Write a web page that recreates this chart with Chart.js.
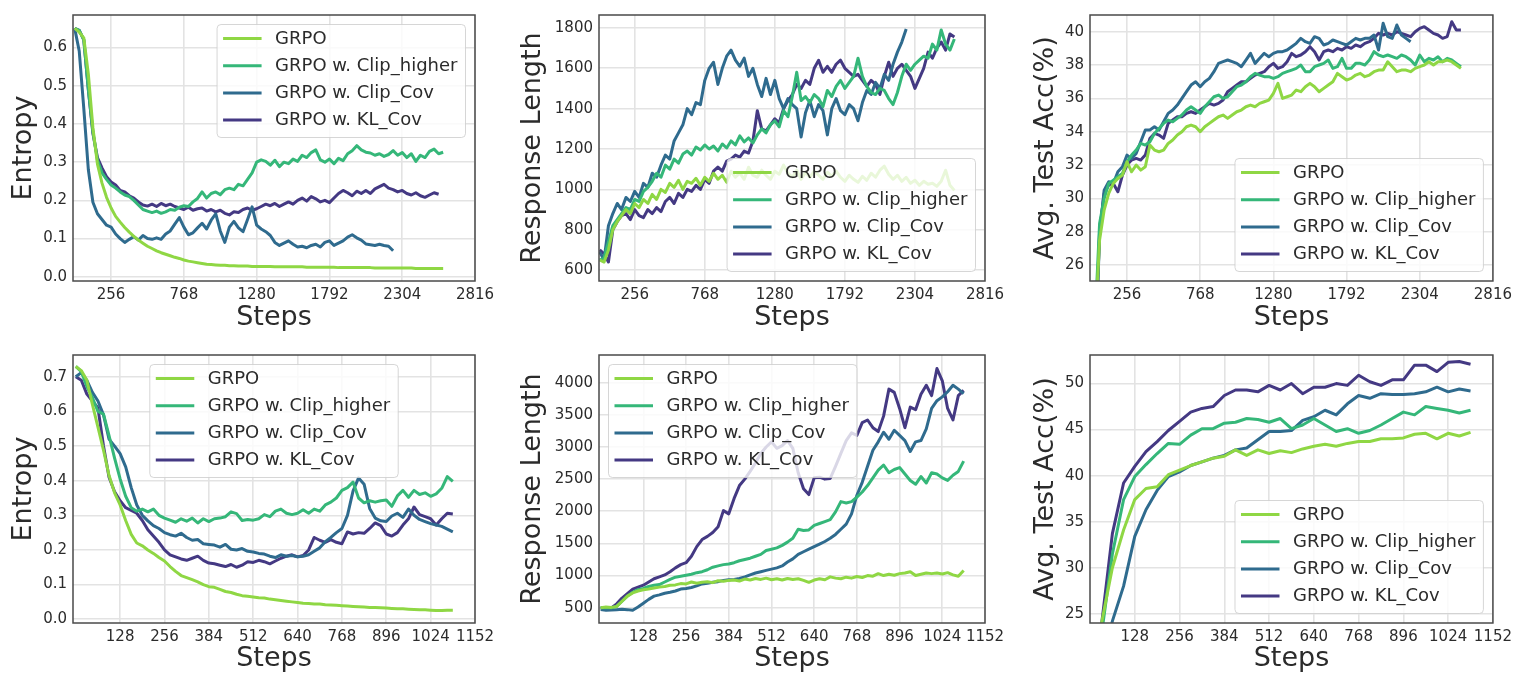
<!DOCTYPE html>
<html>
<head>
<meta charset="utf-8">
<title>Entropy, response length and test accuracy over training steps</title>
<script src="https://cdn.jsdelivr.net/npm/chart.js@4.4.1/dist/chart.umd.min.js"></script>
<style>
  html, body { margin: 0; padding: 0; background: #fff; }
  body { position: relative; width: 1517px; height: 673px; overflow: hidden; }
  canvas { position: absolute; }
</style>
</head>
<body>
<canvas id="entropyTop" width="500" height="340" style="left:0;top:0"></canvas>
<canvas id="lengthTop" width="510" height="340" style="left:500px;top:0"></canvas>
<canvas id="accTop" width="507" height="340" style="left:1010px;top:0"></canvas>
<canvas id="entropyBottom" width="500" height="345" style="left:0;top:340px"></canvas>
<canvas id="lengthBottom" width="510" height="345" style="left:500px;top:340px"></canvas>
<canvas id="accBottom" width="507" height="345" style="left:1010px;top:340px"></canvas>
<script>
// ---- steps ----
const stepsLong = [0,32,64,96,128,160,192,224,256,288,320,352,384,416,448,480,
  512,544,576,608,640,672,704,736,768,800,832,864,896,928,960,992,
  1024,1056,1088,1120,1152,1184,1216,1248,1280,1312,1344,1376,1408,1440,1472,1504,
  1536,1568,1600,1632,1664,1696,1728,1760,1792,1824,1856,1888,1920,1952,1984,2016,
  2048,2080,2112,2144,2176,2208,2240,2272,2304,2336,2368,2400,2432,2464,2496,2528,
  2560,2592];
const stepsShort = [0,16,32,48,64,80,96,112,128,144,160,176,192,208,224,240,
  256,272,288,304,320,336,352,368,384,400,416,432,448,464,480,496,
  512,528,544,560,576,592,608,624,640,656,672,688,704,720,736,752,
  768,784,800,816,832,848,864,880,896,912,928,944,960,976,992,1008,
  1024,1040,1056,1072,1088];
const stepsEvalShort = [32,64,96,128,160,192,224,256,288,320,352,384,416,448,480,512,
  544,576,608,640,672,704,736,768,800,832,864,896,928,960,992,1024,1056,1088];

const seriesNames = ['GRPO', 'GRPO w. Clip_higher', 'GRPO w. Clip_Cov', 'GRPO w. KL_Cov'];
const seriesColors = ['#8fd744', '#35b779', '#2f6b8e', '#443983'];

const xTicksLong = [256, 768, 1280, 1792, 2304, 2816];
const xTicksShort = [128, 256, 384, 512, 640, 768, 896, 1024, 1152];
const entropyTicksTop = [0.0, 0.1, 0.2, 0.3, 0.4, 0.5, 0.6];
const entropyTicksBottom = [0.0, 0.1, 0.2, 0.3, 0.4, 0.5, 0.6, 0.7];
const lengthTicksTop = [600, 800, 1000, 1200, 1400, 1600, 1800];
const lengthTicksBottom = [500, 1000, 1500, 2000, 2500, 3000, 3500, 4000];
const accTicksTop = [26, 28, 30, 32, 34, 36, 38, 40];
const accTicksBottom = [25, 30, 35, 40, 45, 50];

// ---- top row: entropy ----
const grpoEntTop = [0.650,0.640,0.625,0.530,0.390,0.295,0.245,0.208,0.180,0.158,0.143,0.129,0.117,0.106,0.096,0.088,
  0.080,0.074,0.068,0.063,0.059,0.055,0.051,0.048,0.044,0.041,0.039,0.037,0.035,0.033,0.032,0.031,
  0.030,0.030,0.029,0.029,0.028,0.028,0.028,0.027,0.027,0.027,0.027,0.027,0.026,0.026,0.026,0.026,
  0.026,0.026,0.026,0.025,0.025,0.025,0.025,0.025,0.025,0.025,0.024,0.024,0.024,0.024,0.024,0.024,
  0.024,0.024,0.023,0.023,0.023,0.023,0.023,0.023,0.023,0.023,0.023,0.022,0.022,0.022,0.022,0.022,
  0.022,0.022];
const clipHigherEntTop = [0.650,0.645,0.620,0.490,0.380,0.305,0.272,0.255,0.240,0.232,0.222,0.214,0.210,0.200,0.188,0.176,
  0.172,0.168,0.172,0.166,0.170,0.176,0.174,0.182,0.186,0.184,0.196,0.205,0.222,0.206,0.218,0.222,
  0.215,0.228,0.232,0.228,0.242,0.238,0.255,0.272,0.300,0.306,0.302,0.292,0.305,0.288,0.300,0.296,
  0.308,0.302,0.318,0.312,0.325,0.332,0.306,0.300,0.308,0.296,0.310,0.304,0.322,0.330,0.343,0.332,
  0.326,0.324,0.318,0.322,0.315,0.320,0.330,0.318,0.325,0.312,0.322,0.302,0.318,0.312,0.328,0.334,
  0.322,0.326];
const clipCovEntTop = [0.650,0.590,0.440,0.280,0.195,0.165,0.150,0.135,0.130,0.112,0.100,0.090,0.098,0.105,0.096,0.108,
  0.100,0.098,0.102,0.098,0.112,0.120,0.138,0.155,0.130,0.110,0.115,0.128,0.140,0.125,0.148,0.165,
  0.120,0.090,0.130,0.145,0.128,0.118,0.150,0.183,0.135,0.125,0.118,0.108,0.090,0.082,0.088,0.094,
  0.085,0.078,0.080,0.076,0.082,0.085,0.078,0.090,0.094,0.082,0.088,0.094,0.104,0.110,0.102,0.096,
  0.086,0.084,0.082,0.085,0.082,0.080,0.068];
const klCovEntTop = [0.650,0.645,0.620,0.490,0.375,0.312,0.285,0.262,0.248,0.240,0.226,0.222,0.212,0.206,0.196,0.188,
  0.185,0.190,0.184,0.192,0.186,0.190,0.184,0.180,0.176,0.182,0.174,0.178,0.180,0.172,0.176,0.170,
  0.174,0.166,0.162,0.170,0.168,0.176,0.180,0.174,0.178,0.184,0.190,0.186,0.192,0.184,0.190,0.196,
  0.190,0.200,0.206,0.198,0.210,0.204,0.196,0.200,0.194,0.206,0.218,0.226,0.220,0.212,0.224,0.218,
  0.226,0.218,0.230,0.236,0.242,0.232,0.228,0.222,0.226,0.218,0.214,0.220,0.212,0.208,0.214,0.220,
  0.216];

// ---- top row: response length ----
const grpoLenTop = [650,640,700,800,840,870,900,880,930,910,950,930,975,950,1000,985,
  1030,1010,1045,1000,1040,1030,1055,1020,1060,1040,1080,1050,1070,1035,1090,1060,
  1080,1050,1110,1070,1060,1095,1070,1050,1090,1075,1120,1080,1060,1095,1050,1085,
  1060,1090,1070,1050,1085,1065,1090,1060,1040,1070,1050,1035,1065,1045,1080,1060,
  1095,1115,1075,1050,1070,1040,1060,1030,1045,1020,1040,1025,1030,1015,1040,1095,
  1020,995];
const clipHigherLenTop = [650,660,740,820,850,880,910,900,950,940,990,1010,1040,1080,1060,1120,
  1100,1150,1130,1175,1190,1170,1210,1195,1220,1200,1215,1190,1225,1205,1240,1220,
  1265,1235,1255,1230,1270,1300,1280,1320,1340,1310,1390,1360,1460,1580,1440,1460,
  1430,1470,1450,1410,1490,1460,1510,1540,1500,1530,1560,1650,1560,1510,1480,1470,
  1500,1490,1450,1420,1480,1560,1620,1590,1620,1640,1660,1650,1720,1690,1790,1720,
  1690,1745];
const clipCovLenTop = [690,650,820,880,930,900,960,940,990,960,1030,1010,1080,1060,1120,1170,
  1150,1240,1280,1320,1400,1370,1430,1420,1540,1600,1630,1520,1600,1660,1690,1640,
  1610,1650,1560,1600,1520,1460,1550,1470,1540,1450,1400,1450,1420,1400,1260,1380,
  1440,1360,1420,1390,1270,1400,1450,1390,1370,1420,1400,1340,1430,1490,1470,1530,
  1500,1570,1540,1620,1680,1730,1795];
const klCovLenTop = [700,680,640,800,840,870,880,850,900,870,860,900,880,910,890,940,
  960,930,980,960,1000,990,1020,1000,1050,1030,1090,1110,1090,1140,1150,1170,
  1160,1190,1180,1240,1390,1300,1290,1320,1350,1330,1400,1440,1470,1520,1500,1540,
  1520,1600,1640,1580,1610,1580,1620,1640,1600,1580,1560,1570,1540,1510,1540,1520,
  1470,1560,1630,1560,1600,1620,1590,1560,1500,1550,1600,1680,1650,1700,1730,1690,
  1770,1755];

// ---- top row: test accuracy (first eval at step 32) ----
const grpoAccTop = [22.0,27.5,29.3,30.3,30.9,31.2,31.4,32.2,31.6,32.0,31.7,31.9,33.2,32.9,32.8,32.9,
  33.3,33.5,33.8,34.0,34.3,34.4,34.3,34.0,34.3,34.5,34.7,34.9,35.0,34.8,35.0,35.2,
  35.3,35.5,35.6,35.5,35.7,35.8,35.9,36.3,36.9,36.0,36.1,36.2,36.5,36.4,36.7,36.9,
  36.7,36.4,36.6,36.8,37.0,37.5,37.3,37.1,37.2,37.4,37.5,37.3,37.4,37.6,37.7,37.7,
  38.2,37.9,37.6,37.7,37.7,37.6,37.8,37.9,38.0,38.2,38.0,38.2,38.2,38.3,38.2,38.0,
  37.8];
const clipHigherAccTop = [22.5,28.5,30.0,30.9,31.1,31.3,31.5,32.2,32.6,32.9,33.3,33.2,33.4,33.9,34.2,34.5,
  34.7,34.6,34.8,35.0,35.3,35.5,35.3,35.1,35.5,35.8,36.1,36.2,36.0,36.1,36.4,36.7,
  36.8,37.0,37.3,37.5,37.4,37.3,37.3,37.2,37.3,37.5,37.6,37.7,37.8,38.0,37.6,37.6,
  37.9,38.0,38.1,38.3,37.8,37.9,38.4,37.8,37.8,38.1,38.1,38.0,38.3,38.8,38.6,38.5,
  38.6,38.5,38.4,38.6,38.5,38.3,38.0,38.6,38.2,38.4,38.3,38.5,38.2,38.4,38.3,38.1,
  37.9];
const clipCovAccTop = [20.0,27.8,30.5,31.0,30.9,31.6,31.9,32.6,32.4,32.7,33.4,34.1,34.1,34.3,34.1,34.6,
  35.1,35.3,35.6,36.0,36.4,36.8,37.0,36.7,37.0,37.2,37.6,38.1,38.2,38.3,38.2,38.1,
  37.9,38.3,38.7,38.1,38.4,38.7,38.5,38.7,38.8,38.8,38.9,39.1,39.3,39.6,39.4,39.3,
  39.7,39.6,39.2,39.3,39.5,39.4,39.3,39.2,39.4,39.6,39.5,39.6,39.6,39.8,38.9,40.5,
  39.7,39.6,40.4,39.8,39.6,39.4];
const klCovAccTop = [20.5,28.0,30.3,30.8,30.9,30.4,31.4,32.0,32.3,32.4,32.3,32.6,33.6,33.9,33.8,33.6,
  34.5,34.7,34.9,34.9,35.1,35.2,35.1,35.3,35.5,35.7,35.6,35.7,35.9,36.4,36.6,36.8,
  37.0,37.0,37.2,37.4,37.5,37.6,37.9,38.1,37.8,37.9,38.2,38.7,38.5,38.6,38.8,39.1,
  38.8,38.3,38.8,38.9,38.8,39.0,38.9,39.1,39.0,39.2,39.1,39.3,39.4,39.6,39.9,39.8,
  39.9,39.8,40.0,39.9,39.8,39.7,40.0,40.2,40.3,40.1,39.9,39.8,39.6,39.7,40.6,40.1,
  40.1];

// ---- bottom row: entropy ----
const grpoEntBottom = [0.730,0.718,0.690,0.620,0.555,0.488,0.415,0.365,0.330,0.285,0.245,0.220,0.212,0.200,0.190,0.178,
  0.168,0.152,0.138,0.126,0.120,0.114,0.108,0.100,0.094,0.092,0.086,0.080,0.077,0.072,0.068,0.066,
  0.064,0.062,0.061,0.058,0.056,0.054,0.052,0.050,0.048,0.046,0.045,0.044,0.044,0.042,0.041,0.040,
  0.039,0.038,0.037,0.036,0.035,0.034,0.034,0.033,0.032,0.031,0.030,0.030,0.029,0.028,0.027,0.027,
  0.026,0.025,0.025,0.026,0.026];
const clipHigherEntBottom = [0.730,0.715,0.672,0.640,0.600,0.592,0.530,0.465,0.405,0.355,0.322,0.312,0.318,0.310,0.318,0.300,
  0.292,0.286,0.280,0.290,0.283,0.292,0.278,0.290,0.282,0.290,0.292,0.296,0.310,0.305,0.285,0.288,
  0.286,0.290,0.302,0.296,0.312,0.318,0.306,0.302,0.306,0.316,0.306,0.318,0.312,0.330,0.338,0.350,
  0.372,0.380,0.396,0.350,0.336,0.342,0.338,0.342,0.344,0.326,0.356,0.372,0.352,0.372,0.360,0.365,
  0.355,0.362,0.378,0.412,0.398];
const clipCovEntBottom = [0.700,0.712,0.690,0.655,0.630,0.590,0.520,0.500,0.478,0.440,0.380,0.330,0.300,0.284,0.270,0.262,
  0.250,0.244,0.240,0.248,0.236,0.228,0.230,0.218,0.216,0.214,0.208,0.216,0.202,0.200,0.204,0.196,
  0.194,0.190,0.188,0.182,0.178,0.186,0.182,0.184,0.180,0.182,0.186,0.196,0.206,0.224,0.236,0.250,
  0.262,0.300,0.370,0.408,0.390,0.320,0.292,0.284,0.282,0.298,0.306,0.294,0.318,0.300,0.288,0.282,
  0.276,0.272,0.268,0.260,0.252];
const klCovEntBottom = [0.700,0.690,0.650,0.630,0.610,0.500,0.410,0.368,0.342,0.322,0.314,0.306,0.285,0.258,0.240,0.222,
  0.200,0.186,0.180,0.174,0.170,0.176,0.182,0.170,0.162,0.160,0.156,0.152,0.158,0.150,0.156,0.166,
  0.164,0.170,0.166,0.160,0.168,0.176,0.182,0.186,0.180,0.184,0.200,0.236,0.228,0.222,0.230,0.222,
  0.218,0.252,0.246,0.250,0.248,0.262,0.278,0.270,0.246,0.240,0.250,0.272,0.290,0.324,0.302,0.296,
  0.290,0.272,0.290,0.306,0.304];

// ---- bottom row: response length ----
const grpoLenBottom = [500,510,505,520,600,680,730,760,780,790,805,820,830,850,855,875,
  870,900,880,895,905,890,920,910,925,930,915,945,930,955,940,960,
  935,950,930,955,940,950,925,895,930,950,935,980,960,950,975,960,
  985,970,1000,990,1030,1000,1020,1005,1030,1040,1060,1000,1020,1040,1030,1040,
  1025,1045,1010,990,1080];
const clipHigherLenBottom = [500,505,500,520,600,680,740,780,800,830,850,860,900,940,975,990,
  1005,1020,1045,1060,1090,1130,1150,1170,1180,1200,1230,1250,1270,1300,1330,1390,
  1410,1430,1470,1520,1580,1720,1700,1710,1780,1810,1840,1870,1990,2150,2130,2150,
  2220,2300,2400,2520,2640,2720,2600,2650,2680,2580,2480,2420,2540,2440,2600,2580,
  2520,2480,2560,2620,2780];
const clipCovLenBottom = [470,460,465,470,475,470,460,510,570,630,680,700,725,740,760,790,
  800,815,840,870,880,895,905,925,935,940,955,980,1010,1040,1060,1080,
  1100,1120,1150,1210,1260,1330,1370,1410,1450,1490,1530,1580,1640,1720,1800,1960,
  2250,2450,2700,2950,3080,3230,3120,3260,3180,3100,2930,3080,3100,3280,3600,3720,
  3780,3860,3960,3900,3830];
const klCovLenBottom = [490,500,495,560,650,720,790,820,850,900,950,980,1010,1060,1120,1170,
  1200,1300,1450,1560,1610,1670,1760,2010,1960,2200,2400,2500,2620,2750,2900,3000,
  3080,2980,3020,3100,2980,2600,2350,2260,2520,2530,2500,2510,2700,2900,3100,3220,
  3180,3380,3420,3300,3240,3480,3900,3850,3600,3300,3620,3580,3820,3960,3800,4220,
  4030,3600,3420,3800,3880];

// ---- bottom row: test accuracy ----
const grpoAccBottom = [23.8,30.0,34.1,37.4,38.6,38.8,40.1,40.6,41.1,41.5,41.9,42.1,42.8,42.2,42.8,42.4,
  42.7,42.5,42.9,43.2,43.4,43.2,43.5,43.7,43.7,44.0,44.0,44.1,44.5,44.6,44.0,44.6,44.3,44.7];
const clipHigherAccBottom = [22.5,31.5,37.4,39.9,41.2,42.4,43.5,43.4,44.4,45.1,45.1,45.7,45.8,46.2,46.1,45.8,
  46.2,45.1,45.5,46.2,45.5,44.8,45.1,44.6,44.9,45.5,46.2,46.9,46.6,47.5,47.3,47.1,46.8,47.1];
const clipCovAccBottom = [18.5,24.2,28.0,33.4,36.3,38.4,39.9,40.4,41.1,41.5,41.9,42.2,42.8,43.0,43.9,44.8,
  44.8,44.9,46.0,46.4,47.1,46.6,47.8,48.7,48.4,48.9,48.8,48.8,48.9,49.1,49.6,49.1,49.4,49.2];
const klCovAccBottom = [23.5,33.7,39.2,41.0,42.6,43.7,44.9,45.9,46.9,47.3,47.5,48.7,49.3,49.3,49.1,49.8,
  49.3,50.0,48.9,49.6,49.6,50.0,49.8,50.9,50.2,49.8,50.4,50.4,52.0,52.0,51.3,52.3,52.4,52.1];

const FONT = 'DejaVu Sans';
const TEXT = '#2b2b2b';
Chart.defaults.font.family = FONT;

// dark frame round the plot area
const framePlugin = {
  id: 'frame',
  afterDatasetsDraw(chart) {
    const { ctx, chartArea: a } = chart;
    ctx.save();
    ctx.strokeStyle = '#4a4a4a';
    ctx.lineWidth = 1.5;
    ctx.strokeRect(a.left, a.top, a.right - a.left, a.bottom - a.top);
    ctx.restore();
  }
};

// matplotlib-like legend box inside the axes
const boxLegend = {
  id: 'boxLegend',
  afterDraw(chart, args, opts) {
    const { ctx, chartArea: a } = chart;
    const sets = chart.data.datasets;
    ctx.save();
    ctx.font = '18px "' + FONT + '"';
    const textW = Math.max(...sets.map(d => ctx.measureText(d.label).width));
    const w = 58 + textW + 8, h = 113, gap = 9.5;
    let x;
    if (opts.where.endsWith('right')) x = a.right - gap - w;
    else if (opts.where.endsWith('left')) x = a.left + gap;
    else x = (a.left + a.right - w) / 2;
    const y = opts.where.startsWith('upper') ? a.top + gap : a.bottom - gap - h;

    ctx.beginPath();
    ctx.roundRect(x, y, w, h, 4);
    ctx.fillStyle = 'rgba(255,255,255,0.8)';
    ctx.fill();
    ctx.strokeStyle = 'rgba(204,204,204,0.8)';
    ctx.lineWidth = 1;
    ctx.stroke();

    sets.forEach((d, i) => {
      const cy = y + 14 + i * 27.2;
      ctx.strokeStyle = d.borderColor;
      ctx.lineWidth = 3;
      ctx.beginPath();
      ctx.moveTo(x + 6, cy);
      ctx.lineTo(x + 44.5, cy);
      ctx.stroke();
      ctx.fillStyle = TEXT;
      ctx.textBaseline = 'middle';
      ctx.fillText(d.label, x + 58, cy + 0.5);
    });
    ctx.restore();
  }
};

function drawPanel(id, o) {
  const datasets = o.series.map((vals, i) => ({
    label: seriesNames[i],
    data: vals.map((v, j) => ({ x: o.steps[j], y: v })),
    borderColor: seriesColors[i],
    borderWidth: 3,
    borderJoinStyle: 'round',
    pointRadius: 0,
    tension: 0,
    fill: false
  }));

  const grid = { color: '#e3e3e3', lineWidth: 1.6, drawTicks: false };
  const tickFont = { family: FONT, size: 15 };
  const titleFont = { family: FONT, size: 27 };

  new Chart(document.getElementById(id), {
    type: 'line',
    data: { datasets },
    options: {
      responsive: false,
      animation: false,
      devicePixelRatio: 1,
      layout: { padding: { top: o.padTop, right: o.padRight, left: 0, bottom: 0 } },
      plugins: {
        legend: { display: false },
        tooltip: { enabled: false },
        boxLegend: { where: o.legend }
      },
      scales: {
        x: {
          type: 'linear',
          min: o.xMin,
          max: o.xMax,
          afterBuildTicks: s => { s.ticks = o.xTicks.map(v => ({ value: v })); },
          afterFit: s => { s.height = o.xH; },
          ticks: { font: tickFont, color: TEXT, padding: 5, maxRotation: 0, autoSkip: false,
                   callback: v => String(v) },
          grid: grid,
          border: { display: false },
          title: { display: true, text: 'Steps', font: titleFont, color: TEXT,
                   padding: { top: 0, bottom: o.xTitlePad } }
        },
        y: {
          min: o.yMin,
          max: o.yMax,
          afterBuildTicks: s => { s.ticks = o.yTicks.map(v => ({ value: v })); },
          afterFit: s => { s.width = o.yW; },
          ticks: { font: tickFont, color: TEXT, padding: 6, autoSkip: false,
                   callback: v => o.yFmt(v) },
          grid: grid,
          border: { display: false },
          title: { display: true, text: o.yTitle, font: titleFont, color: TEXT,
                   padding: { top: o.yTitlePad, bottom: 0 } }
        }
      }
    },
    plugins: [framePlugin, boxLegend]
  });
}

const oneDecimal = v => v.toFixed(1);
const plain = v => String(v);

drawPanel('entropyTop', {
  steps: stepsLong, series: [grpoEntTop, clipHigherEntTop, clipCovEntTop, klCovEntTop],
  xMin: -12, xMax: 2816, xTicks: xTicksLong,
  yMin: -0.011, yMax: 0.685, yTicks: entropyTicksTop, yFmt: oneDecimal, yTitle: 'Entropy',
  padTop: 13, padRight: 25, yW: 73, xH: 59, yTitlePad: 7.3, xTitlePad: 5.8, legend: 'upper right'
});
drawPanel('lengthTop', {
  steps: stepsLong, series: [grpoLenTop, clipHigherLenTop, clipCovLenTop, klCovLenTop],
  xMin: -5, xMax: 2816, xTicks: xTicksLong,
  yMin: 546, yMax: 1864, yTicks: lengthTicksTop, yFmt: plain, yTitle: 'Response Length',
  padTop: 13, padRight: 25, yW: 99, xH: 59, yTitlePad: 17.1, xTitlePad: 5.8, legend: 'lower right'
});
drawPanel('accTop', {
  steps: stepsLong.slice(1), series: [grpoAccTop, clipHigherAccTop, clipCovAccTop, klCovAccTop],
  xMin: -3, xMax: 2816, xTicks: xTicksLong,
  yMin: 25.05, yMax: 41.0, yTicks: accTicksTop, yFmt: plain, yTitle: 'Avg. Test Acc(%)',
  padTop: 13, padRight: 21, yW: 80, xH: 59, yTitlePad: 19.8, xTitlePad: 5.8, legend: 'lower right'
});
drawPanel('entropyBottom', {
  steps: stepsShort, series: [grpoEntBottom, clipHigherEntBottom, clipCovEntBottom, klCovEntBottom],
  xMin: -8, xMax: 1152, xTicks: xTicksShort,
  yMin: -0.011, yMax: 0.763, yTicks: entropyTicksBottom, yFmt: oneDecimal, yTitle: 'Entropy',
  padTop: 15, padRight: 25, yW: 73, xH: 62, yTitlePad: 7.3, xTitlePad: 9.8, legend: 'upper center'
});
drawPanel('lengthBottom', {
  steps: stepsShort, series: [grpoLenBottom, clipHigherLenBottom, clipCovLenBottom, klCovLenBottom],
  xMin: -5, xMax: 1152, xTicks: xTicksShort,
  yMin: 262, yMax: 4431, yTicks: lengthTicksBottom, yFmt: plain, yTitle: 'Response Length',
  padTop: 15, padRight: 25, yW: 99, xH: 62, yTitlePad: 17.1, xTitlePad: 9.8, legend: 'upper left'
});
drawPanel('accBottom', {
  steps: stepsEvalShort, series: [grpoAccBottom, clipHigherAccBottom, clipCovAccBottom, klCovAccBottom],
  xMin: 0, xMax: 1152, xTicks: xTicksShort,
  yMin: 24.0, yMax: 53.1, yTicks: accTicksBottom, yFmt: plain, yTitle: 'Avg. Test Acc(%)',
  padTop: 15, padRight: 21, yW: 80, xH: 62, yTitlePad: 19.8, xTitlePad: 9.8, legend: 'lower right'
});
</script>
</body>
</html>
